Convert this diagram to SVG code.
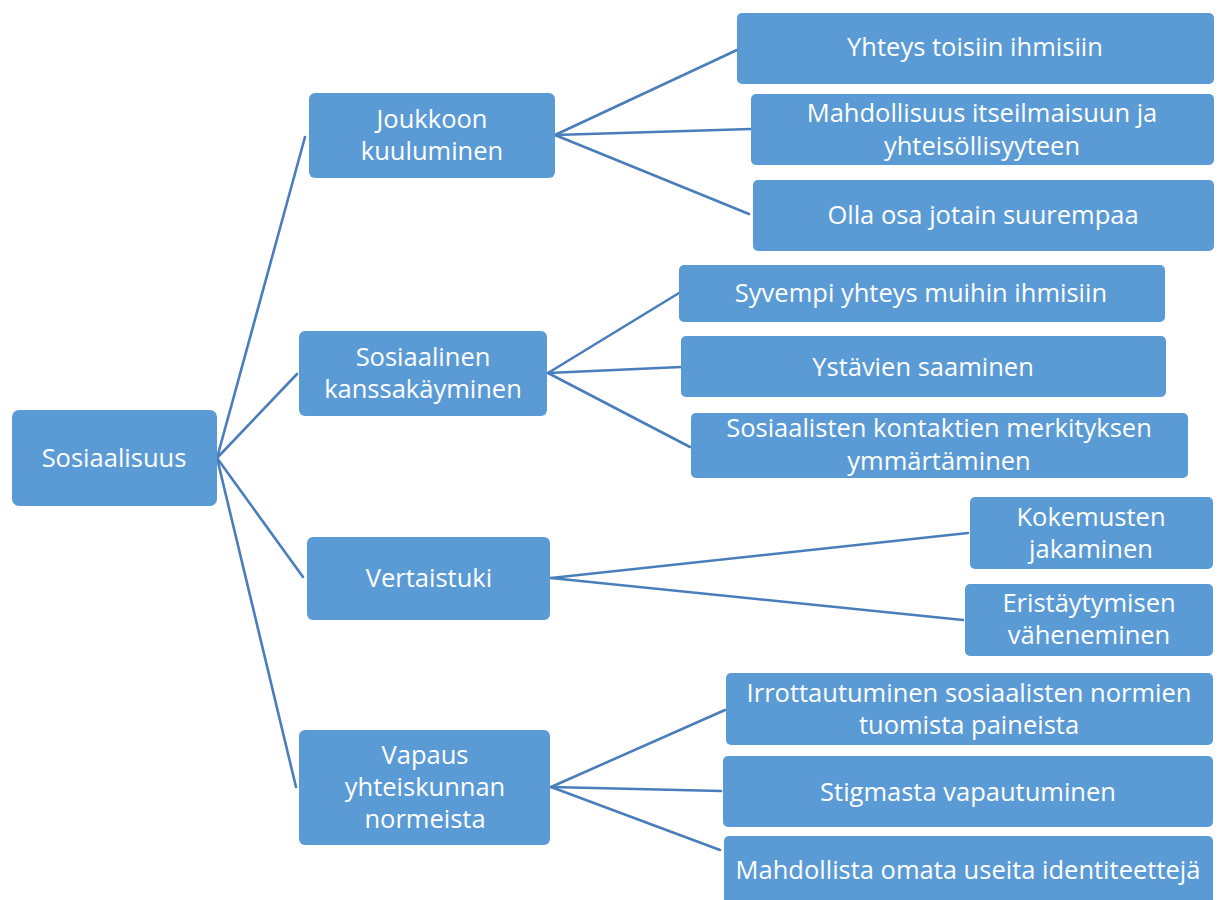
<svg xmlns="http://www.w3.org/2000/svg" width="1224" height="900" viewBox="0 0 1224 900">
  <style>
    .box { fill: #5B9BD5; }
    .lbl { fill: #FFFFFF; font-family: "Open Sans", "Noto Sans", "Liberation Sans", sans-serif; font-size: 25.5px; text-anchor: middle; }
    .link { stroke: #4A7EBB; stroke-width: 2.6; fill: none; stroke-linecap: round; }
  </style>
  <rect width="1224" height="900" fill="#FFFFFF"/>

  <!-- connectors -->
  <g id="connectors">
    <line class="link" x1="217" y1="458" x2="305" y2="137"/>
    <line class="link" x1="217" y1="458" x2="297" y2="374"/>
    <line class="link" x1="217" y1="458" x2="303" y2="577"/>
    <line class="link" x1="217" y1="458" x2="296" y2="787"/>

    <line class="link" x1="555" y1="135" x2="737" y2="50"/>
    <line class="link" x1="555" y1="135" x2="751" y2="129"/>
    <line class="link" x1="555" y1="135" x2="749" y2="214"/>

    <line class="link" x1="548" y1="373" x2="679" y2="293"/>
    <line class="link" x1="548" y1="373" x2="681" y2="367"/>
    <line class="link" x1="548" y1="373" x2="690" y2="447"/>

    <line class="link" x1="551" y1="578" x2="968" y2="533"/>
    <line class="link" x1="551" y1="578" x2="963" y2="620"/>

    <line class="link" x1="551" y1="787" x2="725" y2="710"/>
    <line class="link" x1="551" y1="787" x2="721" y2="791"/>
    <line class="link" x1="551" y1="787" x2="720" y2="850"/>
  </g>

  <!-- root -->
  <g id="n-sosiaalisuus">
    <rect class="box" x="12" y="410" width="205" height="96" rx="7"/>
    <text class="lbl" x="114" y="467">Sosiaalisuus</text>
  </g>

  <!-- level 1 -->
  <g id="n-joukkoon">
    <rect class="box" x="309" y="93" width="246" height="85" rx="6"/>
    <text class="lbl" x="432" y="128">Joukkoon</text>
    <text class="lbl" x="432" y="160">kuuluminen</text>
  </g>
  <g id="n-kanssakayminen">
    <rect class="box" x="299" y="331" width="248" height="85" rx="6"/>
    <text class="lbl" x="423" y="366">Sosiaalinen</text>
    <text class="lbl" x="423" y="398">kanssakäyminen</text>
  </g>
  <g id="n-vertaistuki">
    <rect class="box" x="307" y="537" width="243" height="83" rx="6"/>
    <text class="lbl" x="429" y="587">Vertaistuki</text>
  </g>
  <g id="n-vapaus">
    <rect class="box" x="299" y="730" width="251" height="115" rx="6"/>
    <text class="lbl" x="425" y="764">Vapaus</text>
    <text class="lbl" x="425" y="796">yhteiskunnan</text>
    <text class="lbl" x="425" y="828">normeista</text>
  </g>

  <!-- level 2 -->
  <g id="n-yhteys">
    <rect class="box" x="737" y="13" width="477" height="71" rx="5"/>
    <text class="lbl" x="975" y="56">Yhteys toisiin ihmisiin</text>
  </g>
  <g id="n-itseilmaisu">
    <rect class="box" x="751" y="94" width="463" height="71" rx="5"/>
    <text class="lbl" x="982" y="122">Mahdollisuus itseilmaisuun ja</text>
    <text class="lbl" x="982" y="155">yhteisöllisyyteen</text>
  </g>
  <g id="n-olla-osa">
    <rect class="box" x="753" y="180" width="461" height="71" rx="5"/>
    <text class="lbl" x="983" y="224">Olla osa jotain suurempaa</text>
  </g>
  <g id="n-syvempi">
    <rect class="box" x="679" y="265" width="486" height="57" rx="5"/>
    <text class="lbl" x="921" y="302">Syvempi yhteys muihin ihmisiin</text>
  </g>
  <g id="n-ystavien">
    <rect class="box" x="681" y="336" width="485" height="61" rx="5"/>
    <text class="lbl" x="923" y="376">Ystävien saaminen</text>
  </g>
  <g id="n-kontaktit">
    <rect class="box" x="691" y="413" width="497" height="65" rx="5"/>
    <text class="lbl" x="939" y="437">Sosiaalisten kontaktien merkityksen</text>
    <text class="lbl" x="939" y="470">ymmärtäminen</text>
  </g>
  <g id="n-kokemusten">
    <rect class="box" x="970" y="497" width="243" height="72" rx="5"/>
    <text class="lbl" x="1091" y="526">Kokemusten</text>
    <text class="lbl" x="1091" y="558">jakaminen</text>
  </g>
  <g id="n-eristaytyminen">
    <rect class="box" x="965" y="584" width="248" height="72" rx="5"/>
    <text class="lbl" x="1089" y="612">Eristäytymisen</text>
    <text class="lbl" x="1089" y="644">väheneminen</text>
  </g>
  <g id="n-irrottautuminen">
    <rect class="box" x="726" y="673" width="487" height="72" rx="5"/>
    <text class="lbl" x="969" y="702">Irrottautuminen sosiaalisten normien</text>
    <text class="lbl" x="969" y="734">tuomista paineista</text>
  </g>
  <g id="n-stigma">
    <rect class="box" x="723" y="756" width="490" height="71" rx="5"/>
    <text class="lbl" x="968" y="801">Stigmasta vapautuminen</text>
  </g>
  <g id="n-identiteetit">
    <rect class="box" x="724" y="836" width="489" height="80" rx="5"/>
    <text class="lbl" x="968" y="879">Mahdollista omata useita identiteettejä</text>
  </g>
</svg>
